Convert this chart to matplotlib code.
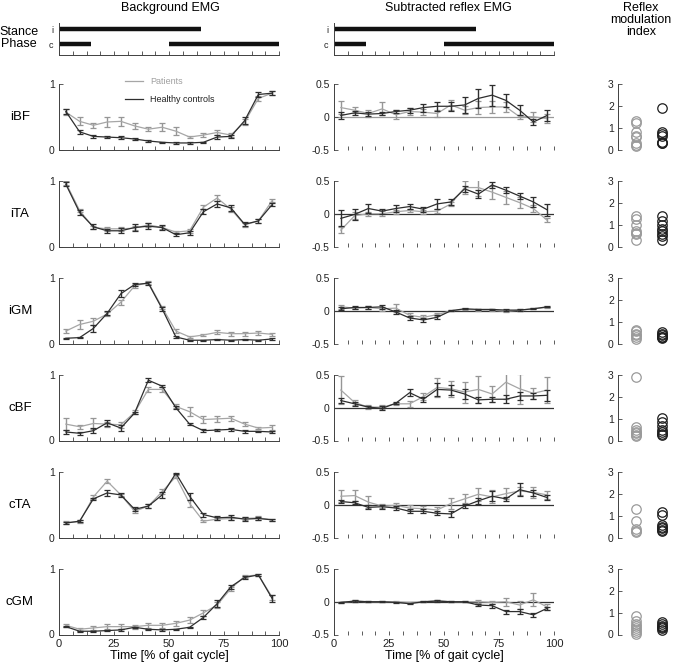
import matplotlib
matplotlib.use('Agg')
import matplotlib.pyplot as plt
from matplotlib.lines import Line2D

plt.rcParams['font.family'] = ['Liberation Sans', 'DejaVu Sans']

# ---------------- data ----------------
muscles = ['iBF', 'iTA', 'iGM', 'cBF', 'cTA', 'cGM']
gait_bins = [3.125, 9.375, 15.625, 21.875, 28.125, 34.375, 40.625, 46.875,
             53.125, 59.375, 65.625, 71.875, 78.125, 84.375, 90.625, 96.875]
bin_edges = [0, 6.25, 12.5, 18.75, 25, 31.25, 37.5, 43.75, 50,
             56.25, 62.5, 68.75, 75, 81.25, 87.5, 93.75, 100]
time_ticks = [0, 25, 50, 75, 100]

stance_i = [(0, 64.5)]
stance_c = [(0, 14.5), (50.2, 100)]

# Background EMG (patients / controls), mean and error
bg_pat = {
    'iBF': [0.57, 0.43, 0.37, 0.42, 0.43, 0.36, 0.31, 0.34, 0.28, 0.19, 0.22, 0.26, 0.22, 0.42, 0.78, 0.86],
    'iTA': [0.97, 0.55, 0.29, 0.27, 0.27, 0.28, 0.33, 0.29, 0.22, 0.24, 0.60, 0.74, 0.57, 0.33, 0.39, 0.70],
    'iGM': [0.19, 0.29, 0.34, 0.45, 0.63, 0.88, 0.93, 0.55, 0.19, 0.10, 0.13, 0.17, 0.15, 0.15, 0.16, 0.14],
    'cBF': [0.25, 0.21, 0.26, 0.25, 0.24, 0.43, 0.78, 0.78, 0.52, 0.44, 0.32, 0.33, 0.34, 0.25, 0.19, 0.20],
    'cTA': [0.23, 0.24, 0.62, 0.86, 0.65, 0.40, 0.48, 0.70, 0.93, 0.52, 0.25, 0.28, 0.29, 0.29, 0.30, 0.27],
    'cGM': [0.14, 0.08, 0.10, 0.12, 0.12, 0.12, 0.14, 0.14, 0.17, 0.22, 0.33, 0.45, 0.70, 0.89, 0.91, 0.57],
}
bg_pat_err = {
    'iBF': [0.05, 0.06, 0.04, 0.07, 0.07, 0.04, 0.03, 0.06, 0.06, 0.02, 0.03, 0.04, 0.03, 0.05, 0.04, 0.03],
    'iTA': [0.03, 0.03, 0.03, 0.03, 0.03, 0.03, 0.03, 0.03, 0.02, 0.03, 0.03, 0.04, 0.04, 0.03, 0.03, 0.02],
    'iGM': [0.03, 0.07, 0.05, 0.03, 0.04, 0.03, 0.02, 0.03, 0.03, 0.02, 0.02, 0.03, 0.03, 0.03, 0.03, 0.02],
    'cBF': [0.09, 0.03, 0.08, 0.04, 0.05, 0.03, 0.04, 0.04, 0.03, 0.07, 0.05, 0.05, 0.04, 0.03, 0.02, 0.04],
    'cTA': [0.02, 0.02, 0.03, 0.03, 0.02, 0.03, 0.03, 0.04, 0.02, 0.05, 0.02, 0.02, 0.03, 0.02, 0.03, 0.02],
    'cGM': [0.02, 0.02, 0.03, 0.04, 0.04, 0.03, 0.04, 0.04, 0.04, 0.05, 0.05, 0.04, 0.03, 0.02, 0.02, 0.04],
}
bg_ctl = {
    'iBF': [0.58, 0.27, 0.20, 0.19, 0.18, 0.16, 0.13, 0.11, 0.10, 0.10, 0.11, 0.19, 0.20, 0.44, 0.84, 0.86],
    'iTA': [0.95, 0.52, 0.30, 0.24, 0.24, 0.29, 0.31, 0.29, 0.18, 0.21, 0.53, 0.65, 0.59, 0.34, 0.39, 0.64],
    'iGM': [0.08, 0.09, 0.23, 0.46, 0.76, 0.90, 0.92, 0.53, 0.10, 0.05, 0.05, 0.06, 0.05, 0.06, 0.05, 0.07],
    'cBF': [0.13, 0.11, 0.15, 0.27, 0.19, 0.42, 0.92, 0.83, 0.50, 0.25, 0.15, 0.16, 0.17, 0.14, 0.14, 0.13],
    'cTA': [0.22, 0.25, 0.59, 0.68, 0.65, 0.43, 0.48, 0.65, 0.98, 0.63, 0.35, 0.30, 0.31, 0.28, 0.29, 0.27],
    'cGM': [0.12, 0.05, 0.05, 0.06, 0.07, 0.11, 0.08, 0.07, 0.08, 0.11, 0.26, 0.47, 0.73, 0.87, 0.91, 0.55],
}
bg_ctl_err = {
    'iBF': [0.04, 0.03, 0.02, 0.02, 0.02, 0.02, 0.01, 0.01, 0.01, 0.01, 0.01, 0.03, 0.02, 0.05, 0.04, 0.03],
    'iTA': [0.03, 0.04, 0.04, 0.03, 0.04, 0.05, 0.05, 0.04, 0.02, 0.03, 0.04, 0.04, 0.05, 0.03, 0.03, 0.02],
    'iGM': [0.01, 0.01, 0.05, 0.03, 0.05, 0.02, 0.02, 0.03, 0.02, 0.01, 0.01, 0.01, 0.01, 0.01, 0.01, 0.01],
    'cBF': [0.03, 0.02, 0.04, 0.05, 0.04, 0.02, 0.03, 0.02, 0.02, 0.02, 0.02, 0.02, 0.02, 0.02, 0.01, 0.02],
    'cTA': [0.02, 0.02, 0.02, 0.04, 0.03, 0.03, 0.03, 0.04, 0.01, 0.05, 0.03, 0.03, 0.04, 0.03, 0.03, 0.02],
    'cGM': [0.01, 0.01, 0.01, 0.01, 0.01, 0.01, 0.01, 0.01, 0.01, 0.01, 0.03, 0.05, 0.03, 0.02, 0.02, 0.05],
}

# Subtracted reflex EMG
rf_pat = {
    'iBF': [0.14, 0.10, 0.05, 0.12, 0.03, 0.08, 0.07, 0.05, 0.18, 0.10, 0.14, 0.15, 0.15, 0.00, 0.00, -0.03],
    'iTA': [-0.25, -0.03, 0.00, 0.00, 0.03, 0.05, 0.03, 0.04, 0.15, 0.40, 0.40, 0.33, 0.25, 0.17, 0.08, -0.10],
    'iGM': [0.06, 0.04, 0.05, 0.03, 0.04, -0.07, -0.10, -0.06, 0.00, 0.02, 0.01, 0.01, -0.01, 0.01, 0.03, 0.05],
    'cBF': [0.27, 0.08, 0.01, 0.01, 0.06, 0.06, 0.17, 0.31, 0.29, 0.24, 0.28, 0.21, 0.39, 0.29, 0.22, 0.27],
    'cTA': [0.13, 0.14, 0.04, -0.02, -0.01, -0.05, -0.06, -0.08, 0.02, 0.09, 0.16, 0.12, 0.17, 0.21, 0.19, 0.15],
    'cGM': [-0.01, 0.01, 0.00, 0.00, 0.00, -0.01, 0.00, 0.02, 0.00, 0.00, 0.00, -0.01, 0.00, -0.05, 0.03, -0.08],
}
rf_pat_err = {
    'iBF': [0.10, 0.05, 0.05, 0.10, 0.07, 0.06, 0.05, 0.06, 0.07, 0.06, 0.10, 0.09, 0.07, 0.03, 0.08, 0.07],
    'iTA': [0.05, 0.05, 0.03, 0.04, 0.03, 0.03, 0.03, 0.03, 0.03, 0.10, 0.13, 0.10, 0.10, 0.08, 0.05, 0.03],
    'iGM': [0.03, 0.02, 0.02, 0.03, 0.06, 0.03, 0.03, 0.02, 0.01, 0.01, 0.01, 0.01, 0.01, 0.01, 0.01, 0.01],
    'cBF': [0.21, 0.04, 0.03, 0.03, 0.02, 0.05, 0.05, 0.15, 0.12, 0.16, 0.21, 0.12, 0.25, 0.23, 0.08, 0.20],
    'cTA': [0.09, 0.09, 0.09, 0.03, 0.03, 0.04, 0.04, 0.05, 0.09, 0.07, 0.10, 0.10, 0.08, 0.06, 0.08, 0.06],
    'cGM': [0.01, 0.01, 0.01, 0.01, 0.01, 0.01, 0.01, 0.01, 0.01, 0.01, 0.02, 0.02, 0.06, 0.06, 0.10, 0.04],
}
rf_ctl = {
    'iBF': [0.02, 0.06, 0.04, 0.05, 0.08, 0.10, 0.14, 0.16, 0.16, 0.18, 0.28, 0.33, 0.25, 0.10, -0.08, 0.02],
    'iTA': [-0.07, -0.01, 0.08, 0.04, 0.08, 0.11, 0.07, 0.15, 0.18, 0.38, 0.30, 0.44, 0.36, 0.27, 0.18, 0.06],
    'iGM': [0.03, 0.05, 0.05, 0.06, -0.02, -0.11, -0.14, -0.10, 0.00, 0.03, 0.02, 0.02, 0.01, 0.01, 0.03, 0.06],
    'cBF': [0.11, 0.06, 0.01, -0.01, 0.07, 0.23, 0.13, 0.28, 0.27, 0.21, 0.12, 0.13, 0.13, 0.18, 0.18, 0.19],
    'cTA': [0.05, 0.03, -0.04, -0.03, -0.05, -0.10, -0.10, -0.13, -0.14, -0.02, 0.06, 0.13, 0.09, 0.23, 0.18, 0.11],
    'cGM': [-0.01, 0.01, 0.00, 0.00, -0.01, -0.03, 0.00, 0.01, 0.00, 0.00, -0.05, -0.06, -0.15, -0.15, -0.20, -0.10],
}
rf_ctl_err = {
    'iBF': [0.05, 0.03, 0.03, 0.03, 0.03, 0.04, 0.06, 0.07, 0.07, 0.12, 0.15, 0.16, 0.10, 0.08, 0.05, 0.08],
    'iTA': [0.12, 0.08, 0.07, 0.04, 0.05, 0.04, 0.04, 0.08, 0.05, 0.05, 0.06, 0.04, 0.05, 0.05, 0.07, 0.09],
    'iGM': [0.02, 0.02, 0.02, 0.03, 0.03, 0.03, 0.03, 0.03, 0.01, 0.01, 0.01, 0.01, 0.01, 0.01, 0.01, 0.01],
    'cBF': [0.04, 0.03, 0.02, 0.03, 0.02, 0.05, 0.04, 0.10, 0.08, 0.08, 0.04, 0.04, 0.06, 0.06, 0.04, 0.08],
    'cTA': [0.03, 0.02, 0.03, 0.03, 0.03, 0.03, 0.03, 0.03, 0.04, 0.03, 0.05, 0.08, 0.03, 0.10, 0.05, 0.04],
    'cGM': [0.01, 0.01, 0.01, 0.01, 0.01, 0.01, 0.01, 0.01, 0.01, 0.01, 0.02, 0.03, 0.03, 0.04, 0.03, 0.02],
}

# Reflex modulation index
rmi_pat = {
    'iBF': [1.30, 1.22, 0.82, 0.62, 0.55, 0.30, 0.20, 0.15],
    'iTA': [1.38, 1.25, 0.97, 0.70, 0.60, 0.55, 0.30],
    'iGM': [0.62, 0.55, 0.45, 0.40, 0.30, 0.20],
    'cBF': [2.90, 0.60, 0.50, 0.40, 0.35, 0.25, 0.20],
    'cTA': [1.30, 0.75, 0.40, 0.30, 0.25],
    'cGM': [0.86, 0.60, 0.50, 0.40, 0.30, 0.20, 0.10, 0.03],
}
rmi_ctl = {
    'iBF': [1.90, 0.78, 0.70, 0.62, 0.35, 0.30, 0.28],
    'iTA': [1.38, 1.15, 0.97, 0.82, 0.70, 0.55, 0.50, 0.30],
    'iGM': [0.52, 0.45, 0.38, 0.32, 0.28, 0.25],
    'cBF': [1.05, 0.85, 0.65, 0.50, 0.40, 0.30, 0.25],
    'cTA': [1.15, 1.05, 0.58, 0.50, 0.42, 0.35, 0.28],
    'cGM': [0.55, 0.48, 0.40, 0.33, 0.28, 0.22],
}

# ---------------- layout ----------------
W, H = 673, 665
fig = plt.figure(figsize=(W / 100, H / 100), dpi=100)

def px_axes(x0, y0, x1, y1):
    return fig.add_axes([x0 / W, 1 - y1 / H, (x1 - x0) / W, (y1 - y0) / H])

C_PAT = '#a6a6a6'
C_PAT_E = '#969696'
C_CTL = '#2e2e2e'
C_SPINE = '#404040'
TICK_FS = 7.5

col_x = [(59, 279), (334, 554), (618, 673)]
row_top0, row_step, row_h = 84.0, 97.0, 65.5


def style(ax, bottom_spine=True):
    for s in ['top', 'right']:
        ax.spines[s].set_visible(False)
    ax.spines['left'].set_color(C_SPINE)
    ax.spines['left'].set_linewidth(0.7)
    ax.spines['bottom'].set_color(C_SPINE)
    ax.spines['bottom'].set_linewidth(0.7)
    ax.spines['bottom'].set_visible(bottom_spine)
    ax.tick_params(direction='in', length=3, width=0.6, colors=C_SPINE,
                   labelsize=TICK_FS, labelcolor='#222222', pad=3)
    ax.set_facecolor('none')


def set_time_axis(ax, show_labels):
    ax.set_xlim(0, 100)
    ax.set_xticks(bin_edges)
    if show_labels:
        ax.set_xticklabels([str(int(v)) if v in time_ticks else '' for v in bin_edges])
        ax.tick_params(axis='x', labelsize=8)
    else:
        ax.set_xticklabels([])


# titles
fig.text(170 / W, 1 - 8 / H, 'Background EMG', ha='center', va='center', fontsize=9)
fig.text(448 / W, 1 - 8 / H, 'Subtracted reflex EMG', ha='center', va='center', fontsize=9)
fig.text(641 / W, 1 - 20 / H, 'Reflex\nmodulation\nindex', ha='center', va='center',
         fontsize=9, linespacing=1.05)
fig.text(19 / W, 1 - 38 / H, 'Stance\nPhase', ha='center', va='center', fontsize=9,
         linespacing=1.05)

# stance phase bars
for (x0, x1) in col_x[:2]:
    ax = px_axes(x0, 23, x1, 55)
    style(ax)
    ax.set_ylim(0, 1)
    ax.hlines([0.81] * len(stance_i), [s[0] for s in stance_i], [s[1] for s in stance_i],
              color='#111111', lw=3.2)
    ax.hlines([0.34] * len(stance_c), [s[0] for s in stance_c], [s[1] for s in stance_c],
              color='#111111', lw=3.2)
    ax.set_yticks([0.81, 0.34])
    ax.set_yticklabels(['i', 'c'], fontsize=6.5)
    ax.tick_params(axis='y', length=0, pad=4)
    set_time_axis(ax, False)

n = len(muscles)
for r, m in enumerate(muscles):
    top = row_top0 + r * row_step
    bot = top + row_h
    last = (r == n - 1)
    fig.text(20 / W, 1 - (top + bot) / 2 / H, m, ha='center', va='center', fontsize=9.5)

    # background EMG
    ax = px_axes(col_x[0][0], top, col_x[0][1], bot)
    style(ax)
    ax.errorbar(gait_bins, bg_pat[m], yerr=bg_pat_err[m], color=C_PAT, ecolor=C_PAT_E,
                lw=0.9, elinewidth=1.0, capsize=2, capthick=0.9, zorder=2)
    ax.errorbar(gait_bins, bg_ctl[m], yerr=bg_ctl_err[m], color=C_CTL, ecolor=C_CTL,
                lw=0.9, elinewidth=1.0, capsize=2, capthick=0.9, zorder=3)
    ax.set_ylim(0, 1)
    ax.set_yticks([0, 1])
    ax.set_yticklabels(['0', '1'])
    set_time_axis(ax, last)
    if last:
        ax.set_xlabel('Time [% of gait cycle]', fontsize=9, labelpad=1)
    if r == 0:
        handles = [Line2D([], [], color=C_PAT, lw=0.9), Line2D([], [], color=C_CTL, lw=0.9)]
        leg = ax.legend(handles, ['Patients', 'Healthy controls'], loc='upper left',
                        bbox_to_anchor=(0.28, 1.17), frameon=False, fontsize=6.5,
                        handlelength=2.0, handletextpad=0.8, labelspacing=0.95, borderpad=0)
        leg.get_texts()[0].set_color('#a0a0a0')
        leg.get_texts()[1].set_color('#222222')

    # reflex EMG
    ax = px_axes(col_x[1][0], top, col_x[1][1], bot)
    style(ax, bottom_spine=False)
    ax.axhline(0, color='#9a9a9a' if r == 0 else '#333333', lw=0.9, zorder=1)
    ax.errorbar(gait_bins, rf_pat[m], yerr=rf_pat_err[m], color=C_PAT, ecolor=C_PAT_E,
                lw=0.9, elinewidth=1.0, capsize=2, capthick=0.9, zorder=2)
    ax.errorbar(gait_bins, rf_ctl[m], yerr=rf_ctl_err[m], color=C_CTL, ecolor=C_CTL,
                lw=0.9, elinewidth=1.0, capsize=2, capthick=0.9, zorder=3)
    ax.set_ylim(-0.5, 0.5)
    ax.set_yticks([-0.5, 0, 0.5])
    ax.set_yticklabels(['-0.5', '0', '0.5'])
    set_time_axis(ax, last)
    if last:
        ax.set_xlabel('Time [% of gait cycle]', fontsize=9, labelpad=1)

    # RMI
    ax = px_axes(col_x[2][0], top, col_x[2][1], bot)
    style(ax, bottom_spine=False)
    ax.plot([1] * len(rmi_pat[m]), rmi_pat[m], 'o', mfc='none', mec='#9a9a9a',
            ms=6.8, mew=0.9, clip_on=False)
    ax.plot([2] * len(rmi_ctl[m]), rmi_ctl[m], 'o', mfc='none', mec='#1e1e1e',
            ms=6.8, mew=0.9, clip_on=False)
    ax.set_xlim(0.31, 2.43)
    ax.set_ylim(0, 3)
    ax.set_yticks([0, 1, 2, 3])
    ax.set_xticks([])

fig.savefig('out.png', dpi=100)
